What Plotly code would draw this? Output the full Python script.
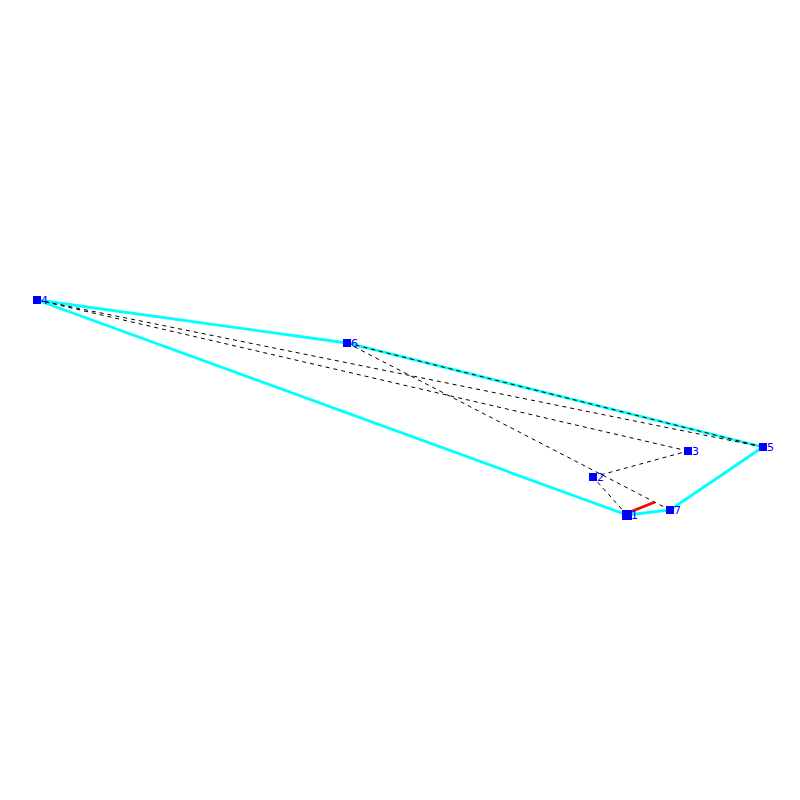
import plotly.graph_objects as go

node_labels = ["1", "2", "3", "4", "5", "6", "7"]
node_x = [627, 593, 688, 37, 763, 347, 670]
node_y = [515, 477, 451, 300, 447, 343, 510]
node_sizes = [10, 8, 8, 8, 8, 8, 8]

hull_order = [0, 3, 5, 4, 6, 0]
dashed_edges = [(0, 1), (1, 2), (2, 3), (3, 4), (4, 5), (5, 6)]
red_x = [630, 655]
red_y = [512, 502]

fig = go.Figure()
fig.add_trace(go.Scatter(
    x=[node_x[i] for i in hull_order],
    y=[node_y[i] for i in hull_order],
    mode="lines", line=dict(color="#00ffff", width=2.8), hoverinfo="skip"))
for a, b in dashed_edges:
    fig.add_trace(go.Scatter(
        x=[node_x[a], node_x[b]], y=[node_y[a], node_y[b]],
        mode="lines", line=dict(color="black", width=1, dash="4px,4px"), hoverinfo="skip"))
fig.add_trace(go.Scatter(x=red_x, y=red_y, mode="lines",
                         line=dict(color="#ff0000", width=2.8), hoverinfo="skip"))
fig.add_trace(go.Scatter(
    x=node_x, y=node_y, mode="markers",
    marker=dict(symbol="square", color="#0000ff", size=node_sizes, opacity=1, line=dict(width=0)),
    hoverinfo="skip"))
for lab, x, y in zip(node_labels, node_x, node_y):
    fig.add_annotation(x=x, y=y, text=lab, showarrow=False, xanchor="left", yanchor="middle",
                       xshift=3, yshift=0, borderpad=0,
                       font=dict(color="#0000ff", size=11, family="DejaVu Sans"))
fig.update_layout(
    width=800, height=800, showlegend=False,
    margin=dict(l=0, r=0, t=0, b=0),
    paper_bgcolor="white", plot_bgcolor="white",
    xaxis=dict(range=[0, 800], visible=False),
    yaxis=dict(range=[800, 0], visible=False),
)
fig.write_html("out.html", post_script="document.body.style.margin='0';",
               config=dict(displayModeBar=False))
